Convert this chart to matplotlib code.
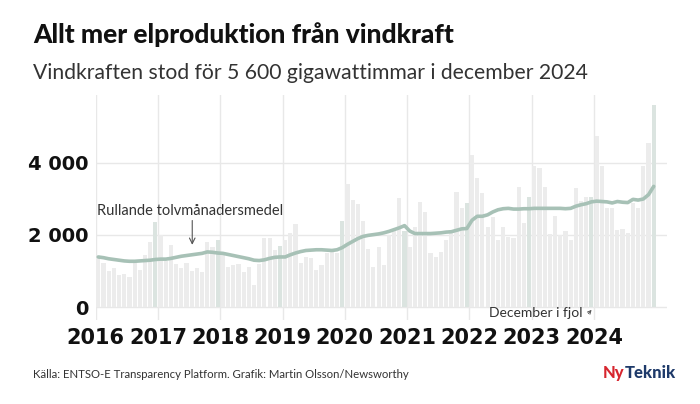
import numpy as np
import matplotlib
matplotlib.use("Agg")
import matplotlib.pyplot as plt

# Vindkraft i Sverige, GWh per manad (jan 2016 - dec 2024), avlast ur grafen
years = [2016, 2017, 2018, 2019, 2020, 2021, 2022, 2023, 2024]
year_labels = [str(y) for y in years]
y_ticks = [0, 2000, 4000]
y_labels = ["0", "2 000", "4 000"]

monthly_gwh = [
    1350, 1230, 1000, 1070, 885, 930, 840, 1210, 1025, 1440, 1800, 2370,     # 2016
    1995, 1280, 1715, 1185, 1090, 1230, 1000, 1070, 980, 1810, 1670, 1855,   # 2017
    1535, 1115, 1165, 1185, 975, 1105, 605, 1200, 1905, 1925, 1580, 1700,    # 2018
    1850, 2050, 2300, 1230, 1390, 1350, 1030, 1170, 1500, 1520, 1500, 2400,  # 2019
    3430, 2960, 2870, 2400, 1600, 1110, 1670, 1160, 2000, 2150, 3040, 2100,  # 2020
    1680, 2230, 2920, 2650, 1500, 1380, 1540, 1860, 2140, 3200, 2740, 2880,  # 2021
    4220, 3570, 3160, 2230, 2510, 1860, 2230, 1950, 1910, 3340, 2340, 3060,  # 2022
    3920, 3850, 3340, 2040, 2530, 2000, 2100, 1860, 3300, 2950, 3050, 3050,  # 2023
    4750, 3920, 2740, 2740, 2140, 2180, 2050, 2880, 2740, 3920, 4550, 5600,  # 2024
]

# rullande tolvmanadersmedel, avlast ur grafen
rolling_mean = [
    1390, 1370, 1340, 1320, 1300, 1280, 1270, 1270, 1280, 1290, 1300, 1320,
    1330, 1330, 1350, 1380, 1410, 1430, 1450, 1470, 1490, 1530, 1520, 1500,
    1490, 1460, 1430, 1400, 1370, 1340, 1300, 1290, 1310, 1350, 1380, 1390,
    1390, 1450, 1500, 1540, 1570, 1580, 1590, 1590, 1580, 1570, 1590, 1650,
    1740, 1820, 1900, 1960, 1990, 2010, 2030, 2060, 2100, 2150, 2200, 2260,
    2110, 2040, 2040, 2040, 2040, 2050, 2060, 2080, 2090, 2130, 2170, 2180,
    2410, 2520, 2520, 2560, 2640, 2700, 2730, 2740, 2720, 2720, 2730, 2730,
    2740, 2740, 2740, 2740, 2740, 2740, 2730, 2740, 2800, 2840, 2870, 2920,
    2940, 2930, 2920, 2890, 2930, 2910, 2900, 2990, 2970, 3000, 3120, 3350,
]

n = len(monthly_gwh)
x = years[0] + (np.arange(n) + 0.5) / 12
is_december = (np.arange(n) % 12) == 11
bar_colors = np.where(is_december, "#dbe4e0", "#ececec")

fig = plt.figure(figsize=(7, 4.04), dpi=100)
ax = fig.add_axes([0.1367, 0.208, 0.816, 0.557])

ax.bar(x, monthly_gwh, width=0.8 / 12, color=bar_colors, zorder=2)
ax.plot(x, rolling_mean, color="#a7c1b6", lw=2.6, zorder=3, solid_capstyle="round")

ax.set_xlim(2016, 2025.17)
ax.set_ylim(-360, 5890)

ax.set_xticks(years)
ax.set_xticklabels(year_labels, fontsize=15, fontweight="bold", family="DejaVu Sans")
ax.set_yticks(y_ticks)
ax.set_yticklabels(y_labels, fontsize=14, fontweight="bold", family="DejaVu Sans")
ax.tick_params(axis="both", length=0, colors="#111111")
ax.tick_params(axis="x", pad=6)
ax.tick_params(axis="y", pad=5)
ax.grid(True, color="#e8e8e8", lw=1, zorder=0)
ax.set_axisbelow(True)
for s in ax.spines.values():
    s.set_visible(False)

# annoteringar
ax.text(2016.02, 2667, "Rullande tolvmånadersmedel", fontsize=10.5, family="Lato",
        color="#333333", va="center", ha="left", zorder=5)
ax.annotate("", xy=(2017.55, 1650), xytext=(2017.55, 2480),
            arrowprops=dict(arrowstyle="->", color="#555555", lw=0.8), zorder=5)
ax.text(2023.82, -170, "December i fjol", fontsize=10, family="Lato",
        color="#333333", va="center", ha="right", zorder=5)
ax.annotate("", xy=(2023.99, -20), xytext=(2023.88, -240),
            arrowprops=dict(arrowstyle="->", color="#555555", lw=0.7,
                            mutation_scale=6), zorder=5)

# rubriker
fig.text(33 / 700, 1 - 35 / 404, "Allt mer elproduktion från vindkraft",
         fontsize=19, fontweight="black", family="Lato", color="#111111", va="center")
fig.text(33 / 700, 1 - 73 / 404, "Vindkraften stod för 5 600 gigawattimmar i december 2024",
         fontsize=15.2, family="Lato", color="#333333", va="center")
fig.text(33 / 700, 1 - 374 / 404,
         "Källa: ENTSO-E Transparency Platform. Grafik: Martin Olsson/Newsworthy",
         fontsize=8.2, family="Lato", color="#333333", va="center")

# logga
logo_y = 1 - 373 / 404
t1 = fig.text(603 / 700, logo_y, "Ny", fontsize=12, fontweight="black", family="Lato",
              color="#d7262f", va="center")
fig.canvas.draw()
bb = t1.get_window_extent()
fig.text(bb.x1 / fig.bbox.width, logo_y, "Teknik", fontsize=12, fontweight="black",
         family="Lato", color="#1e3a6a", va="center")

fig.savefig("out.png", dpi=100, facecolor="white")
